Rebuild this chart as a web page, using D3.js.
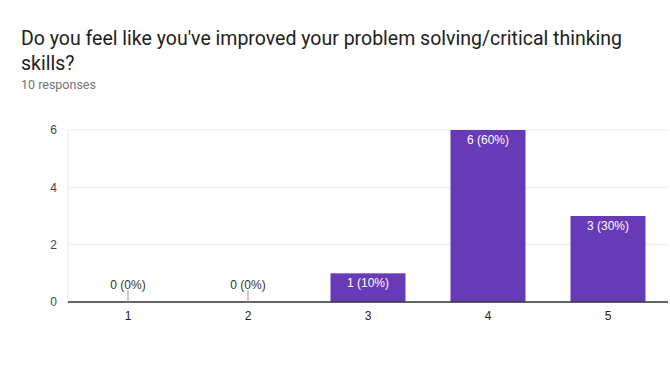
<!DOCTYPE html>
<html>
<head>
<meta charset="utf-8">
<script src="https://cdn.jsdelivr.net/npm/d3@7"></script>
<style>
  body { margin: 0; background: #fff; }
  svg { display: block; }
</style>
</head>
<body>
<svg id="chart" width="670" height="374"></svg>
<script>
// data
const categories = ["1", "2", "3", "4", "5"];
const counts = [0, 0, 1, 6, 3];
const totalResponses = 10;
const yTicks = [0, 2, 4, 6];
const titleLines = ["Do you feel like you've improved your problem solving/critical thinking", "skills?"];

const svg = d3.select("#chart");
const margin = {top: 130, right: 2, bottom: 72, left: 68};
const width = 670 - margin.left - margin.right;
const height = 374 - margin.top - margin.bottom;

// title block
svg.selectAll("text.title")
    .data(titleLines)
    .join("text")
    .attr("class", "title")
    .attr("x", 21)
    .attr("y", (d, i) => 45 + i * 25)
    .attr("font-family", "Roboto, Arial, sans-serif")
    .attr("font-size", 19.5)
    .attr("fill", "#212121")
    .text(d => d);

svg.append("text")
    .attr("x", 21)
    .attr("y", 89)
    .attr("font-family", "Roboto, Arial, sans-serif")
    .attr("font-size", 12.5)
    .attr("fill", "#757575")
    .text(totalResponses + " responses");

const g = svg.append("g").attr("transform", "translate(" + margin.left + "," + margin.top + ")");

const x = d3.scaleBand().domain(categories).range([0, width]).paddingInner(0.375).paddingOuter(0.1875);
const y = d3.scaleLinear().domain([0, 6]).range([height, 0]);

// grid
g.selectAll("line.grid")
    .data(yTicks)
    .join("line")
    .attr("class", "grid")
    .attr("x1", 0).attr("x2", width)
    .attr("y1", d => y(d)).attr("y2", d => y(d))
    .attr("stroke", "#ebebeb");

g.append("line")
    .attr("x1", 0).attr("x2", 0)
    .attr("y1", 0).attr("y2", height)
    .attr("stroke", "#ebebeb");

// y axis labels
const yAxis = g.append("g").call(d3.axisLeft(y).tickValues(yTicks).tickFormat(d3.format("d")).tickSize(0).tickPadding(11));
yAxis.select(".domain").remove();
yAxis.selectAll("text")
    .attr("font-family", "Arial, sans-serif")
    .attr("font-size", 12)
    .attr("fill", "#444");

const data = categories.map((c, i) => ({cat: c, v: counts[i]}));

// bars
g.selectAll("rect.bar")
    .data(data.filter(d => d.v > 0))
    .join("rect")
    .attr("class", "bar")
    .attr("x", d => x(d.cat))
    .attr("y", d => y(d.v))
    .attr("width", x.bandwidth())
    .attr("height", d => height - y(d.v))
    .attr("fill", "#673ab7");

// baseline
g.append("line")
    .attr("x1", 0).attr("x2", width)
    .attr("y1", height).attr("y2", height)
    .attr("stroke", "#333")
    .attr("stroke-width", 1.5);

// zero stubs
g.selectAll("line.stub")
    .data(data.filter(d => d.v === 0))
    .join("line")
    .attr("class", "stub")
    .attr("x1", d => x(d.cat) + x.bandwidth() / 2)
    .attr("x2", d => x(d.cat) + x.bandwidth() / 2)
    .attr("y1", height - 12).attr("y2", height)
    .attr("stroke", "#999");

// value labels
g.selectAll("text.val")
    .data(data)
    .join("text")
    .attr("class", "val")
    .attr("x", d => x(d.cat) + x.bandwidth() / 2)
    .attr("y", d => d.v > 0 ? y(d.v) + 14 : height - 13)
    .attr("text-anchor", "middle")
    .attr("font-family", "Arial, sans-serif")
    .attr("font-size", 12)
    .attr("fill", d => d.v > 0 ? "#fff" : "#333")
    .text(d => d.v + " (" + Math.round(d.v / totalResponses * 100) + "%)");

// x axis labels
const xAxis = g.append("g")
    .attr("transform", "translate(0," + height + ")")
    .call(d3.axisBottom(x).tickSize(0).tickPadding(9));
xAxis.select(".domain").remove();
xAxis.selectAll("text")
    .attr("font-family", "Arial, sans-serif")
    .attr("font-size", 12)
    .attr("fill", "#222");
</script>
</body>
</html>
